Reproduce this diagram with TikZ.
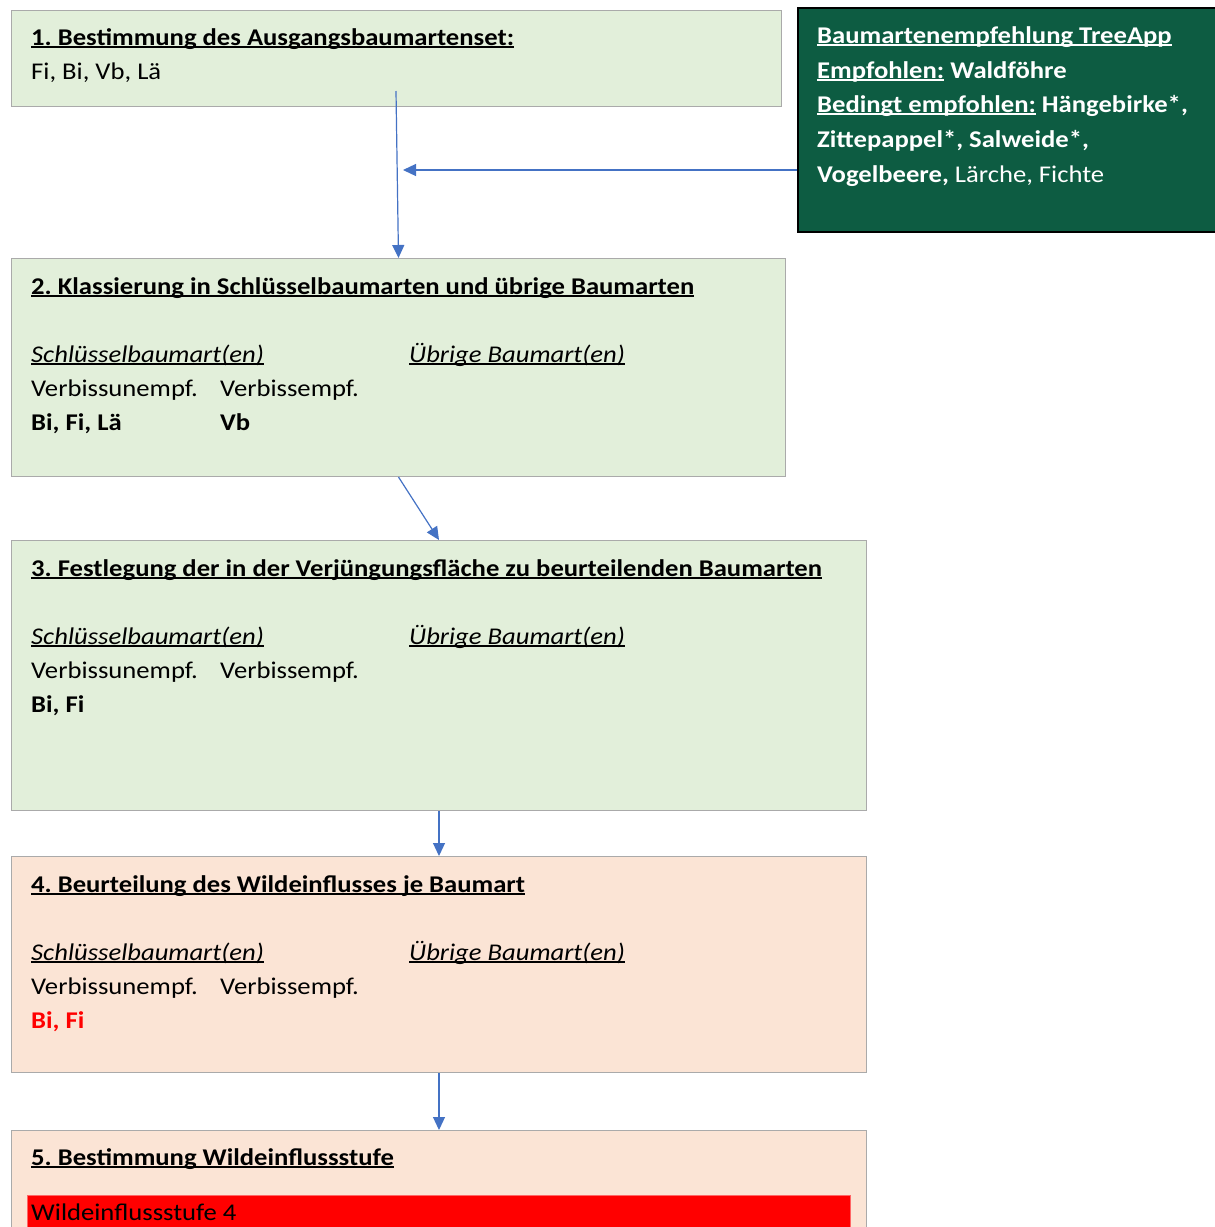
\documentclass[tikz,border=0pt]{standalone}
\usepackage{fontspec}
\setmainfont{Carlito}[FakeStretch=1.11]
\usetikzlibrary{arrows.meta,positioning}
\definecolor{leafpale}{RGB}{226,239,218}
\definecolor{peach}{RGB}{251,228,213}
\definecolor{forest}{RGB}{13,92,66}
\definecolor{frame}{RGB}{170,170,170}
\definecolor{linkblue}{RGB}{68,114,196}
\newcommand{\unterstr}[1]{\setbox0\hbox{#1}\rlap{\rule[-3pt]{\wd0}{1.6pt}}\box0\relax}
\frenchspacing
\tikzset{
  >={Triangle[length=13pt,width=12pt]},
  stage/.style={draw=frame,fill=#1,line width=1pt,anchor=north west,inner sep=0pt},
  stage/.default=leafpale,
  txt/.style={anchor=base west,inner sep=0pt,font=\fontsize{24}{29}\selectfont},
  flow/.style={->,draw=linkblue,line width=1.2pt},
}
\begin{document}
\begin{tikzpicture}[x=1pt,y=-1pt]
  \useasboundingbox (0,0) rectangle (1215,1227);
  % boxes
  \node[stage,minimum width=770pt,minimum height=96pt] (s1) at (11,10) {};
  \node[stage,draw=black,fill=forest,line width=1.5pt,minimum width=440pt,minimum height=224pt] (treeapp) at (797,7) {};
  \node[stage,minimum width=774pt,minimum height=218pt] (s2) at (11,258) {};
  \node[stage,minimum width=855pt,minimum height=270pt] (s3) at (11,540) {};
  \node[stage=peach,minimum width=855pt,minimum height=216pt] (s4) at (11,856) {};
  \node[stage=peach,minimum width=855pt,minimum height=130pt] (s5) at (11,1130) {};
  \node[stage,fill=red,draw=red!60,minimum width=823pt,minimum height=45pt] (stufe) at (27,1195) {};

  % step 1
  \node[txt] (t1) at (31,45) {\unterstr{\textbf{1. Bestimmung des Ausgangsbaumartenset:}}};
  \node[txt] (set1) at (31,79) {Fi, Bi, Vb, Lä};

  % TreeApp
  \begin{scope}[every node/.append style={txt,text=white}]
    \node (tr1) at (817,43) {\unterstr{\textbf{Baumartenempfehlung TreeApp}}};
    \node (tr2) at (817,78) {\unterstr{\textbf{Empfohlen:}} \textbf{Waldföhre}};
    \node (tr3) at (817,112) {\unterstr{\textbf{Bedingt empfohlen:}} \textbf{Hängebirke*,}};
    \node (tr4) at (817,147) {\textbf{Zittepappel*, Salweide*,}};
    \node (tr5) at (817,182) {\textbf{Vogelbeere,} Lärche, Fichte};
  \end{scope}

  % steps 2-4
  \foreach \b/\t in {
    s2/2. Klassierung in Schlüsselbaumarten und übrige Baumarten,
    s3/3. Festlegung der in der Verjüngungsfläche zu beurteilenden Baumarten,
    s4/4. Beurteilung des Wildeinflusses je Baumart}
  {
    \node[txt] (\b-title) at ([xshift=20pt,yshift=-36pt]\b.north west) {\unterstr{\textbf{\t}}};
    \node[txt] (\b-key) at ([xshift=20pt,yshift=-104pt]\b.north west) {\unterstr{\textit{Schlüsselbaumart(en)}}};
    \node[txt] (\b-rest) at ([xshift=398pt,yshift=-104pt]\b.north west) {\unterstr{\textit{Übrige Baumart(en)}}};
    \node[txt] (\b-unempf) at ([xshift=20pt,yshift=-138pt]\b.north west) {Verbissunempf.};
    \node[txt] (\b-empf) at ([xshift=209pt,yshift=-138pt]\b.north west) {Verbissempf.};
  }
  \node[txt] (s2-arten) at ([yshift=-34pt]s2-unempf.base west) {\textbf{Bi, Fi, Lä}};
  \node[txt] (s2-vb) at ([yshift=-34pt]s2-empf.base west) {\textbf{Vb}};
  \node[txt] (s3-arten) at ([yshift=-34pt]s3-unempf.base west) {\textbf{Bi, Fi}};
  \node[txt,text=red] (s4-arten) at ([yshift=-34pt]s4-unempf.base west) {\textbf{Bi, Fi}};

  % step 5
  \node[txt] (t5) at (31,1165) {\unterstr{\textbf{5. Bestimmung Wildeinflussstufe}}};
  \node[txt] (stufe-txt) at (31,1220) {Wildeinflussstufe 4};

  % connectors
  \coordinate (a1) at (396,91);
  \coordinate (a2) at (403,170);
  \draw[flow] (a1) -- (s2.north);
  \draw[flow] (treeapp.west |- a2) -- (a2);
  \draw[flow] (s2.south) -- (s3.north);
  \draw[flow] (s3.south) -- (s4.north);
  \draw[flow] (s4.south) -- (s5.north);
\end{tikzpicture}
\end{document}
